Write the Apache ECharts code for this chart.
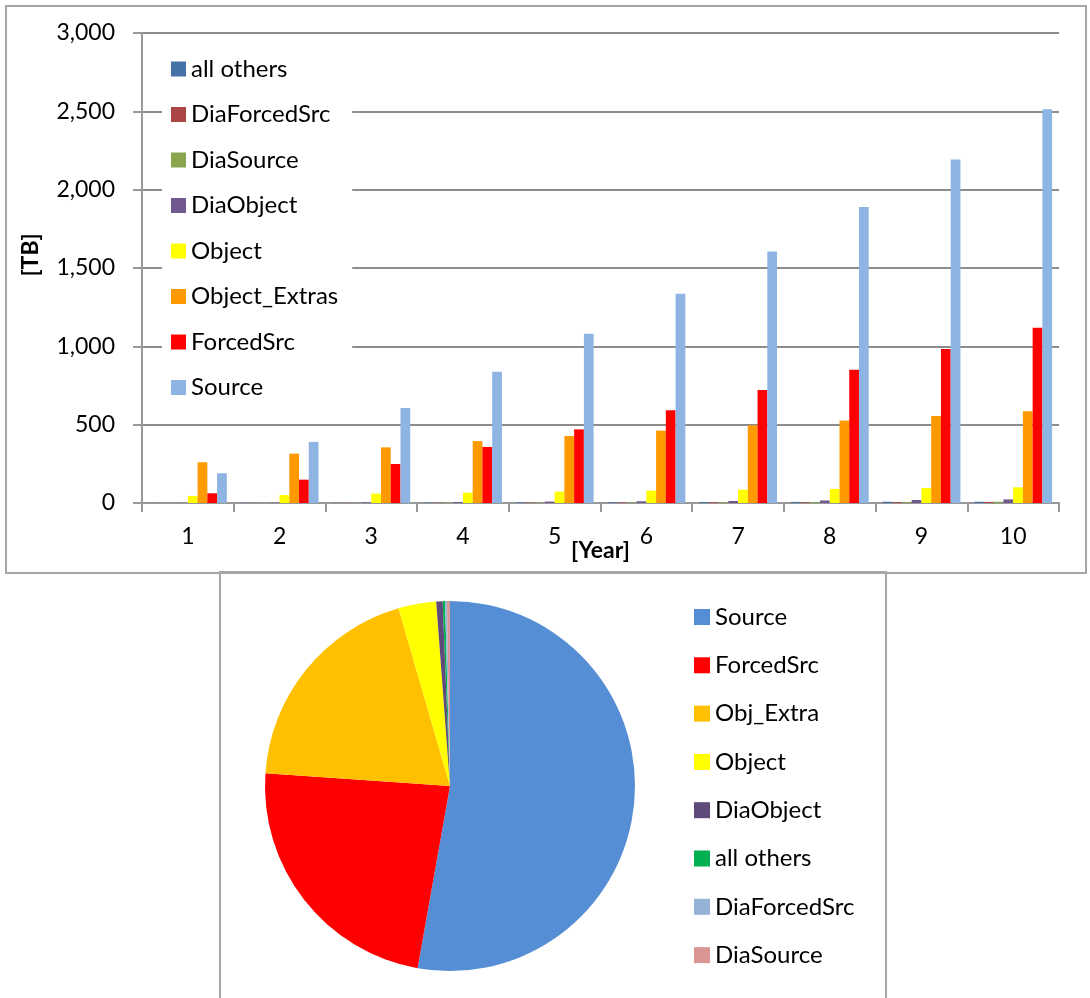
<!DOCTYPE html>
<html lang="en">
<head>
    <meta charset="UTF-8">
    <title>TB per year</title>
    <script type="text/javascript" src="https://cdn.jsdelivr.net/npm/echarts@6/dist/echarts.min.js"></script>
    <style>
        body{
            padding: 0px;
            margin: 0px;
            background-color: #ffffff;
        }
        #bar{
            position: absolute;
            left: 0px;
            top: 0px;
            width: 1090px;
            height: 575px;
        }
        #pie{
            position: absolute;
            left: 0px;
            top: 572px;
            width: 1090px;
            height: 426px;
        }
        .frame{
            position: absolute;
            pointer-events: none;
            border: 2px solid #a6a6a6;
        }
    </style>
</head>
<body>
    <div id="bar"></div>
    <div id="pie"></div>
    <div class="frame" style="left:5px; top:5px; width:1078px; height:565px;"></div>
    <div class="frame" style="left:219px; top:571px; width:664px; height:440px;"></div>
    <script>
    // bar chart data, TB per year
    var years = ['1', '2', '3', '4', '5', '6', '7', '8', '9', '10'];
    var allOthers   = [1, 2, 2, 3, 4, 5, 6, 7, 8, 8];
    var diaForced   = [0, 1, 1, 2, 3, 4, 5, 5, 6, 7];
    var diaSource   = [0, 1, 1, 2, 3, 4, 5, 6, 7, 8];
    var diaObject   = [1, 2, 4, 6, 9, 11, 13, 16, 19, 23];
    var objectTB    = [45, 51, 60, 66, 73, 79, 85, 90, 96, 100];
    var objExtras   = [260, 315, 355, 395, 428, 462, 496, 526, 556, 585];
    var forcedSrc   = [62, 149, 249, 358, 470, 592, 722, 851, 983, 1118];
    var sourceTB    = [190, 390, 607, 838, 1080, 1335, 1605, 1890, 2192, 2513];

    // pie chart data (share in %)
    var pieNames  = ['Source', 'ForcedSrc', 'Obj_Extra', 'Object', 'DiaObject', 'all others', 'DiaForcedSrc', 'DiaSource'];
    var pieValues = [52.8, 23.3, 19.4, 3.3, 0.56, 0.2, 0.17, 0.26];
    var pieColors = ['#558ed5', '#ff0000', '#ffc000', '#ffff00', '#604a7b', '#00b050', '#95b3d7', '#d99694'];

    var font = 'Lato, "DejaVu Sans", sans-serif';

    function barSeries(name, data, color) {
        return {
            name: name,
            type: 'bar',
            data: data,
            barGap: '0%',
            barCategoryGap: '15%',
            itemStyle: {color: color},
            emphasis: {disabled: true}
        };
    }

    var bar = echarts.init(document.getElementById('bar'), null, {renderer: 'canvas'});
    bar.setOption({
        animation: false,
        textStyle: {fontFamily: font},
        grid: {left: 142, right: 31, top: 33, bottom: 72, containLabel: false, outerBoundsMode: 'none'},
        legend: {
            orient: 'vertical',
            left: 162,
            top: 46,
            padding: [11, 14, 11, 9],
            backgroundColor: '#ffffff',
            icon: 'rect',
            itemWidth: 15,
            itemHeight: 15,
            itemGap: 21.5,
            textStyle: {fontSize: 24, lineHeight: 24, color: '#000', fontFamily: font},
            data: ['all others', 'DiaForcedSrc', 'DiaSource', 'DiaObject', 'Object', 'Object_Extras', 'ForcedSrc', 'Source']
        },
        xAxis: {
            type: 'category',
            data: years,
            name: '[Year]',
            nameLocation: 'middle',
            nameGap: 36,
            nameMoveOverlap: false,
            nameTextStyle: {fontSize: 23, fontWeight: 'bold', color: '#000', fontFamily: font},
            axisLine: {lineStyle: {color: '#999', width: 2}},
            axisTick: {show: true, length: 9, alignWithLabel: false, lineStyle: {color: '#999', width: 2}},
            axisLabel: {fontSize: 23, color: '#000', margin: 22, fontFamily: font}
        },
        yAxis: {
            type: 'value',
            min: 0,
            max: 3000,
            interval: 500,
            name: '[TB]',
            nameLocation: 'middle',
            nameGap: 100,
            nameRotate: 90,
            nameMoveOverlap: false,
            nameTextStyle: {fontSize: 23, fontWeight: 'bold', color: '#000', fontFamily: font, padding: [0, 0, 0, 26]},
            axisLine: {show: true, lineStyle: {color: '#999', width: 2}},
            axisTick: {show: true, length: 9, lineStyle: {color: '#999', width: 2}},
            splitLine: {lineStyle: {color: '#8c8c8c', width: 2}},
            axisLabel: {
                fontSize: 23,
                color: '#000',
                margin: 27,
                fontFamily: font,
                formatter: function (v) { return v.toLocaleString('en-US'); }
            }
        },
        series: [
            barSeries('all others', allOthers, '#4572a7'),
            barSeries('DiaForcedSrc', diaForced, '#aa4643'),
            barSeries('DiaSource', diaSource, '#89a54e'),
            barSeries('DiaObject', diaObject, '#71588f'),
            barSeries('Object', objectTB, '#ffff00'),
            barSeries('Object_Extras', objExtras, '#ff9900'),
            barSeries('ForcedSrc', forcedSrc, '#ff0000'),
            barSeries('Source', sourceTB, '#8eb4e3')
        ]
    });

    var pie = echarts.init(document.getElementById('pie'), null, {renderer: 'canvas'});
    var pieData = [];
    for (var i = 0; i < pieNames.length; i++) {
        pieData.push({name: pieNames[i], value: pieValues[i], itemStyle: {color: pieColors[i]}});
    }
    pie.setOption({
        animation: false,
        textStyle: {fontFamily: font},
        legend: {
            orient: 'vertical',
            left: 694,
            top: 33,
            padding: 0,
            icon: 'rect',
            itemWidth: 16,
            itemHeight: 16,
            itemGap: 24.3,
            textStyle: {fontSize: 24, lineHeight: 24, color: '#000', fontFamily: font},
            data: pieNames
        },
        series: [{
            type: 'pie',
            center: [450, 214],
            radius: 185,
            startAngle: 90,
            clockwise: true,
            label: {show: false},
            labelLine: {show: false},
            itemStyle: {borderWidth: 0},
            emphasis: {disabled: true},
            data: pieData
        }]
    });
    </script>
</body>
</html>
